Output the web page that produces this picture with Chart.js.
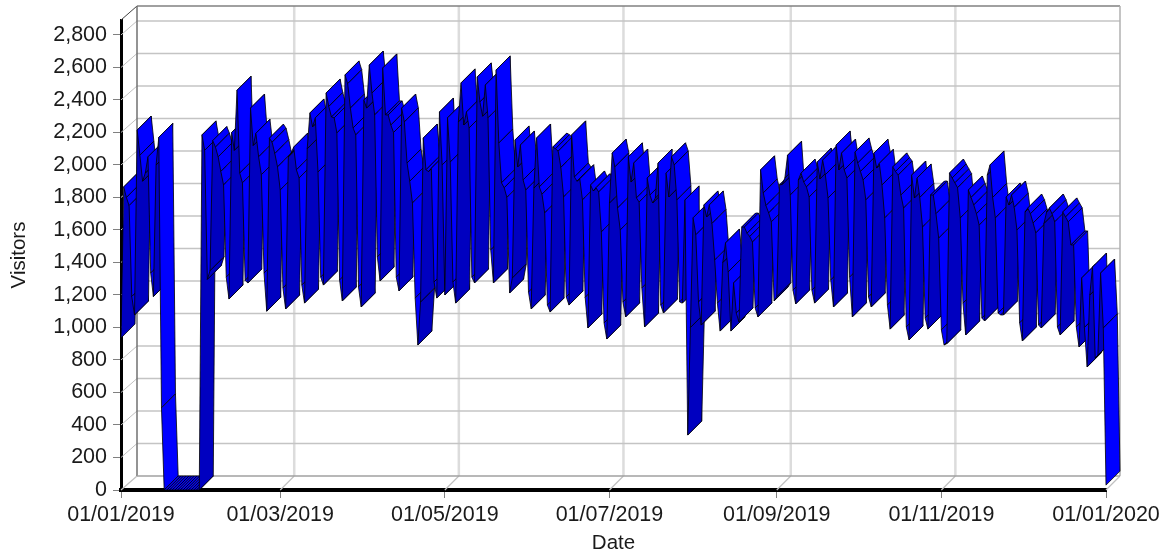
<!DOCTYPE html>
<html>
<head>
<meta charset="utf-8">
<title>Visitors</title>
<script src="https://cdn.jsdelivr.net/npm/chart.js@4/dist/chart.umd.min.js"></script>
<style>
  html, body { margin: 0; background: #fff; }
  canvas { display: block; }
</style>
</head>
<body>
<canvas id="place__graph" width="1169" height="557"></canvas>
<script>
// one value per day, 01/01/2019 .. 01/01/2020, rows run Monday to Sunday
const visitors = [
  935, 1865, 1800, 1750, 1190, 1077,
  2215, 2060, 1900, 1950, 2050, 1335, 1190,
  2000, 2170, 505, 0, 0, 0, 0,
  0, 0, 0, 0, 0, 0, 0,
  0, 0, 0, 2185, 2090, 1296, 1350,
  2150, 2110, 2050, 1960, 1877, 1310, 1175,
  2200, 2090, 2460, 1950, 1890, 1290, 1274,
  2350, 2120, 2195, 2050, 1940, 1335, 1100,
  2165, 2140, 2070, 1988, 1846, 1243, 1114,
  2050, 2073, 2110, 1970, 1920, 1261, 1150,
  2100, 2320, 2235, 2290, 1957, 1310, 1261,
  2443, 2360, 2295, 2290, 2197, 1292, 1163,
  2554, 2500, 2350, 2228, 2185, 1250, 1126,
  2400, 2350, 2615, 2443, 2308, 1434, 1286,
  2597, 2308, 2308, 2246, 2200, 1310, 1225,
  2350, 2265, 2012, 1900, 1766, 1181, 892,
  1157, 2166, 1970, 1960, 1980, 1280, 1181,
  2326, 2000, 1200, 2290, 2018, 1280, 1150,
  2265, 2505, 2246, 2326, 2228, 1310, 1274,
  2542, 2388, 2300, 2492, 2290, 1477, 1274,
  2585, 2135, 1890, 1860, 1800, 1212, 1305,
  2154, 1988, 2123, 1908, 1846, 1218, 1114,
  1858, 2166, 1865, 1820, 1705, 1138, 1095,
  2110, 2100, 2085, 1985, 1803, 1188, 1138,
  2185, 1926, 1900, 1915, 1785, 1185, 997,
  1877, 1840, 1860, 1834, 1588, 1028, 929,
  1766, 2073, 1988, 1735, 1600, 1157, 1065,
  2050, 1895, 2012, 1797, 1772, 1243, 1003,
  1920, 1815, 1766, 1797, 2012, 1138, 1089,
  1950, 1803, 2050, 2000, 1785, 1157, 1150,
  1785, 338, 1000, 1675, 1570, 1157, 1015,
  1754, 1680, 1754, 1640, 1415, 1150, 978,
  1400, 1520, 1342, 978, 1274, 1089, 1034,
  1618, 1618, 1580, 1560, 1526, 1120, 1065,
  1970, 1828, 1750, 1705, 1650, 1163, 1190,
  1877, 1880, 1920, 2060, 1815, 1230, 1145,
  1908, 1950, 1895, 1865, 1803, 1230, 1150,
  2018, 1914, 2030, 1940, 1797, 1292, 1126,
  2123, 1970, 2073, 1970, 1920, 1310, 1065,
  2080, 2012, 1960, 1908, 1785, 1188, 1126,
  2073, 1981, 2010, 1877, 1674, 1138, 990,
  1988, 1960, 1938, 1815, 1735, 1003, 923,
  1938, 1797, 1920, 1800, 1618, 1058, 990,
  1815, 1815, 1700, 1550, 985, 892, 900,
  1950, 1920, 1890, 1860, 1674, 1150, 954,
  1846, 1800, 1754, 1700, 1630, 1058, 1040,
  1938, 2000, 1800, 1674, 1089, 1077, 1077,
  1803, 1754, 1815, 1740, 1600, 1028, 917,
  1711, 1735, 1700, 1643, 1582, 1015, 997,
  1640, 1711, 1735, 1700, 1650, 1003, 954,
  1711, 1680, 1650, 1508, 1508, 1003, 880,
  1305, 1000, 757, 1200, 1372, 812, 830,
  1335, 997, 30
];
const dateTicks = [0, 59, 120, 181, 243, 304, 365];
const dateLabels = ['01/01/2019', '01/03/2019', '01/05/2019', '01/07/2019', '01/09/2019', '01/11/2019', '01/01/2020'];

// how far the back of the box sits from the front, in pixels
const depthX = 14;
const depthY = 14;

const wallsPlugin = {
  id: 'walls',
  beforeDatasetsDraw(chart) {
    const ctx = chart.ctx;
    const a = chart.chartArea;
    const backLeft = a.left + 16;
    const backRight = a.right + depthX;
    const backBottom = a.bottom - depthY;
    const backTop = a.top - depthY;
    const line = (x1, y1, x2, y2, color, w) => {
      ctx.beginPath();
      ctx.moveTo(x1, y1);
      ctx.lineTo(x2, y2);
      ctx.strokeStyle = color;
      ctx.lineWidth = w;
      ctx.stroke();
    };
    ctx.save();
    chart.scales.x.ticks.forEach(t => {
      const x = chart.scales.x.getPixelForValue(t.value);
      if (t.value > 0 && t.value < 365) {
        line(x + depthX, backTop, x + depthX, backBottom, '#dcdcdc', 2.5);
      }
      line(x, a.bottom, x + (t.value === 0 ? 16 : depthX), backBottom, '#c0c0c0', 1.2);
    });
    chart.scales.y.ticks.forEach(t => {
      if (t.value === 0) return;
      const y = chart.scales.y.getPixelForValue(t.value);
      line(a.left, y, backLeft, y - depthY, '#c0c0c0', 1);
      line(backLeft, y - depthY, backRight, y - depthY, '#c4c4c4', 1.5);
    });
    line(a.left, a.top, backLeft, backTop, '#404040', 1);
    line(backLeft, backTop, backRight, backTop, '#808080', 1.5);
    line(backLeft, backTop, backLeft, backBottom, '#707070', 1.5);
    line(backRight, backTop, backRight, backBottom, '#b0b0b0', 1.5);
    line(backLeft, backBottom, backRight, backBottom, '#a0a0a0', 1.5);
    ctx.restore();
  }
};

// each day to day step is one slanted panel, drawn left to right so later ones overlap
const ribbonPlugin = {
  id: 'ribbon',
  afterDatasetsDraw(chart) {
    const ctx = chart.ctx;
    const pts = chart.getDatasetMeta(0).data;
    ctx.save();
    ctx.lineJoin = 'round';
    ctx.lineWidth = 0.8;
    ctx.strokeStyle = '#000';
    for (let i = 0; i < pts.length - 1; i++) {
      const p = pts[i];
      const q = pts[i + 1];
      ctx.beginPath();
      ctx.moveTo(p.x, p.y);
      ctx.lineTo(q.x, q.y);
      ctx.lineTo(q.x + depthX, q.y - depthY);
      ctx.lineTo(p.x + depthX, p.y - depthY);
      ctx.closePath();
      ctx.fillStyle = q.y < p.y ? '#0000c0' : '#0000ff';
      ctx.fill();
      ctx.stroke();
    }
    ctx.restore();
  }
};

const labelFont = { family: '"Liberation Sans", Arial, sans-serif', size: 21.5 };
const titleFont = { family: '"Liberation Sans", Arial, sans-serif', size: 20.5 };

new Chart(document.getElementById('place__graph').getContext('2d'), {
  type: 'line',
  data: {
    datasets: [{
      label: 'Visitors',
      data: visitors.map((v, i) => ({ x: i, y: v })),
      showLine: false,
      pointRadius: 0,
      clip: false
    }]
  },
  plugins: [wallsPlugin, ribbonPlugin],
  options: {
    responsive: false,
    animation: false,
    layout: { padding: { top: 20, right: 63, left: 0, bottom: 0 } },
    plugins: { legend: { display: false }, tooltip: { enabled: false } },
    scales: {
      x: {
        type: 'linear',
        min: 0,
        max: 365,
        afterBuildTicks: s => { s.ticks = dateTicks.map(v => ({ value: v })); },
        afterFit: s => { s.height = 67; },
        grid: { drawOnChartArea: false, tickLength: 8, tickColor: '#808080', tickWidth: 1 },
        border: { color: '#000', width: 4 },
        ticks: {
          autoSkip: false,
          maxRotation: 0,
          padding: 4,
          color: '#1a1a1a',
          font: labelFont,
          callback: (v) => dateLabels[dateTicks.indexOf(v)]
        },
        title: { display: true, text: 'Date', color: '#1a1a1a', font: titleFont, padding: { top: 0, bottom: 1 } }
      },
      y: {
        min: 0,
        max: 2892,
        afterFit: s => { s.width = 121; },
        grid: { drawOnChartArea: false, tickLength: 8, tickColor: '#808080', tickWidth: 1 },
        border: { color: '#000', width: 3 },
        ticks: {
          stepSize: 200,
          includeBounds: false,
          padding: 6,
          color: '#1a1a1a',
          font: labelFont,
          callback: v => v.toLocaleString('en-US')
        },
        title: { display: true, text: 'Visitors', color: '#1a1a1a', font: titleFont, padding: { top: 7, bottom: 0 } }
      }
    }
  }
});
</script>
</body>
</html>
